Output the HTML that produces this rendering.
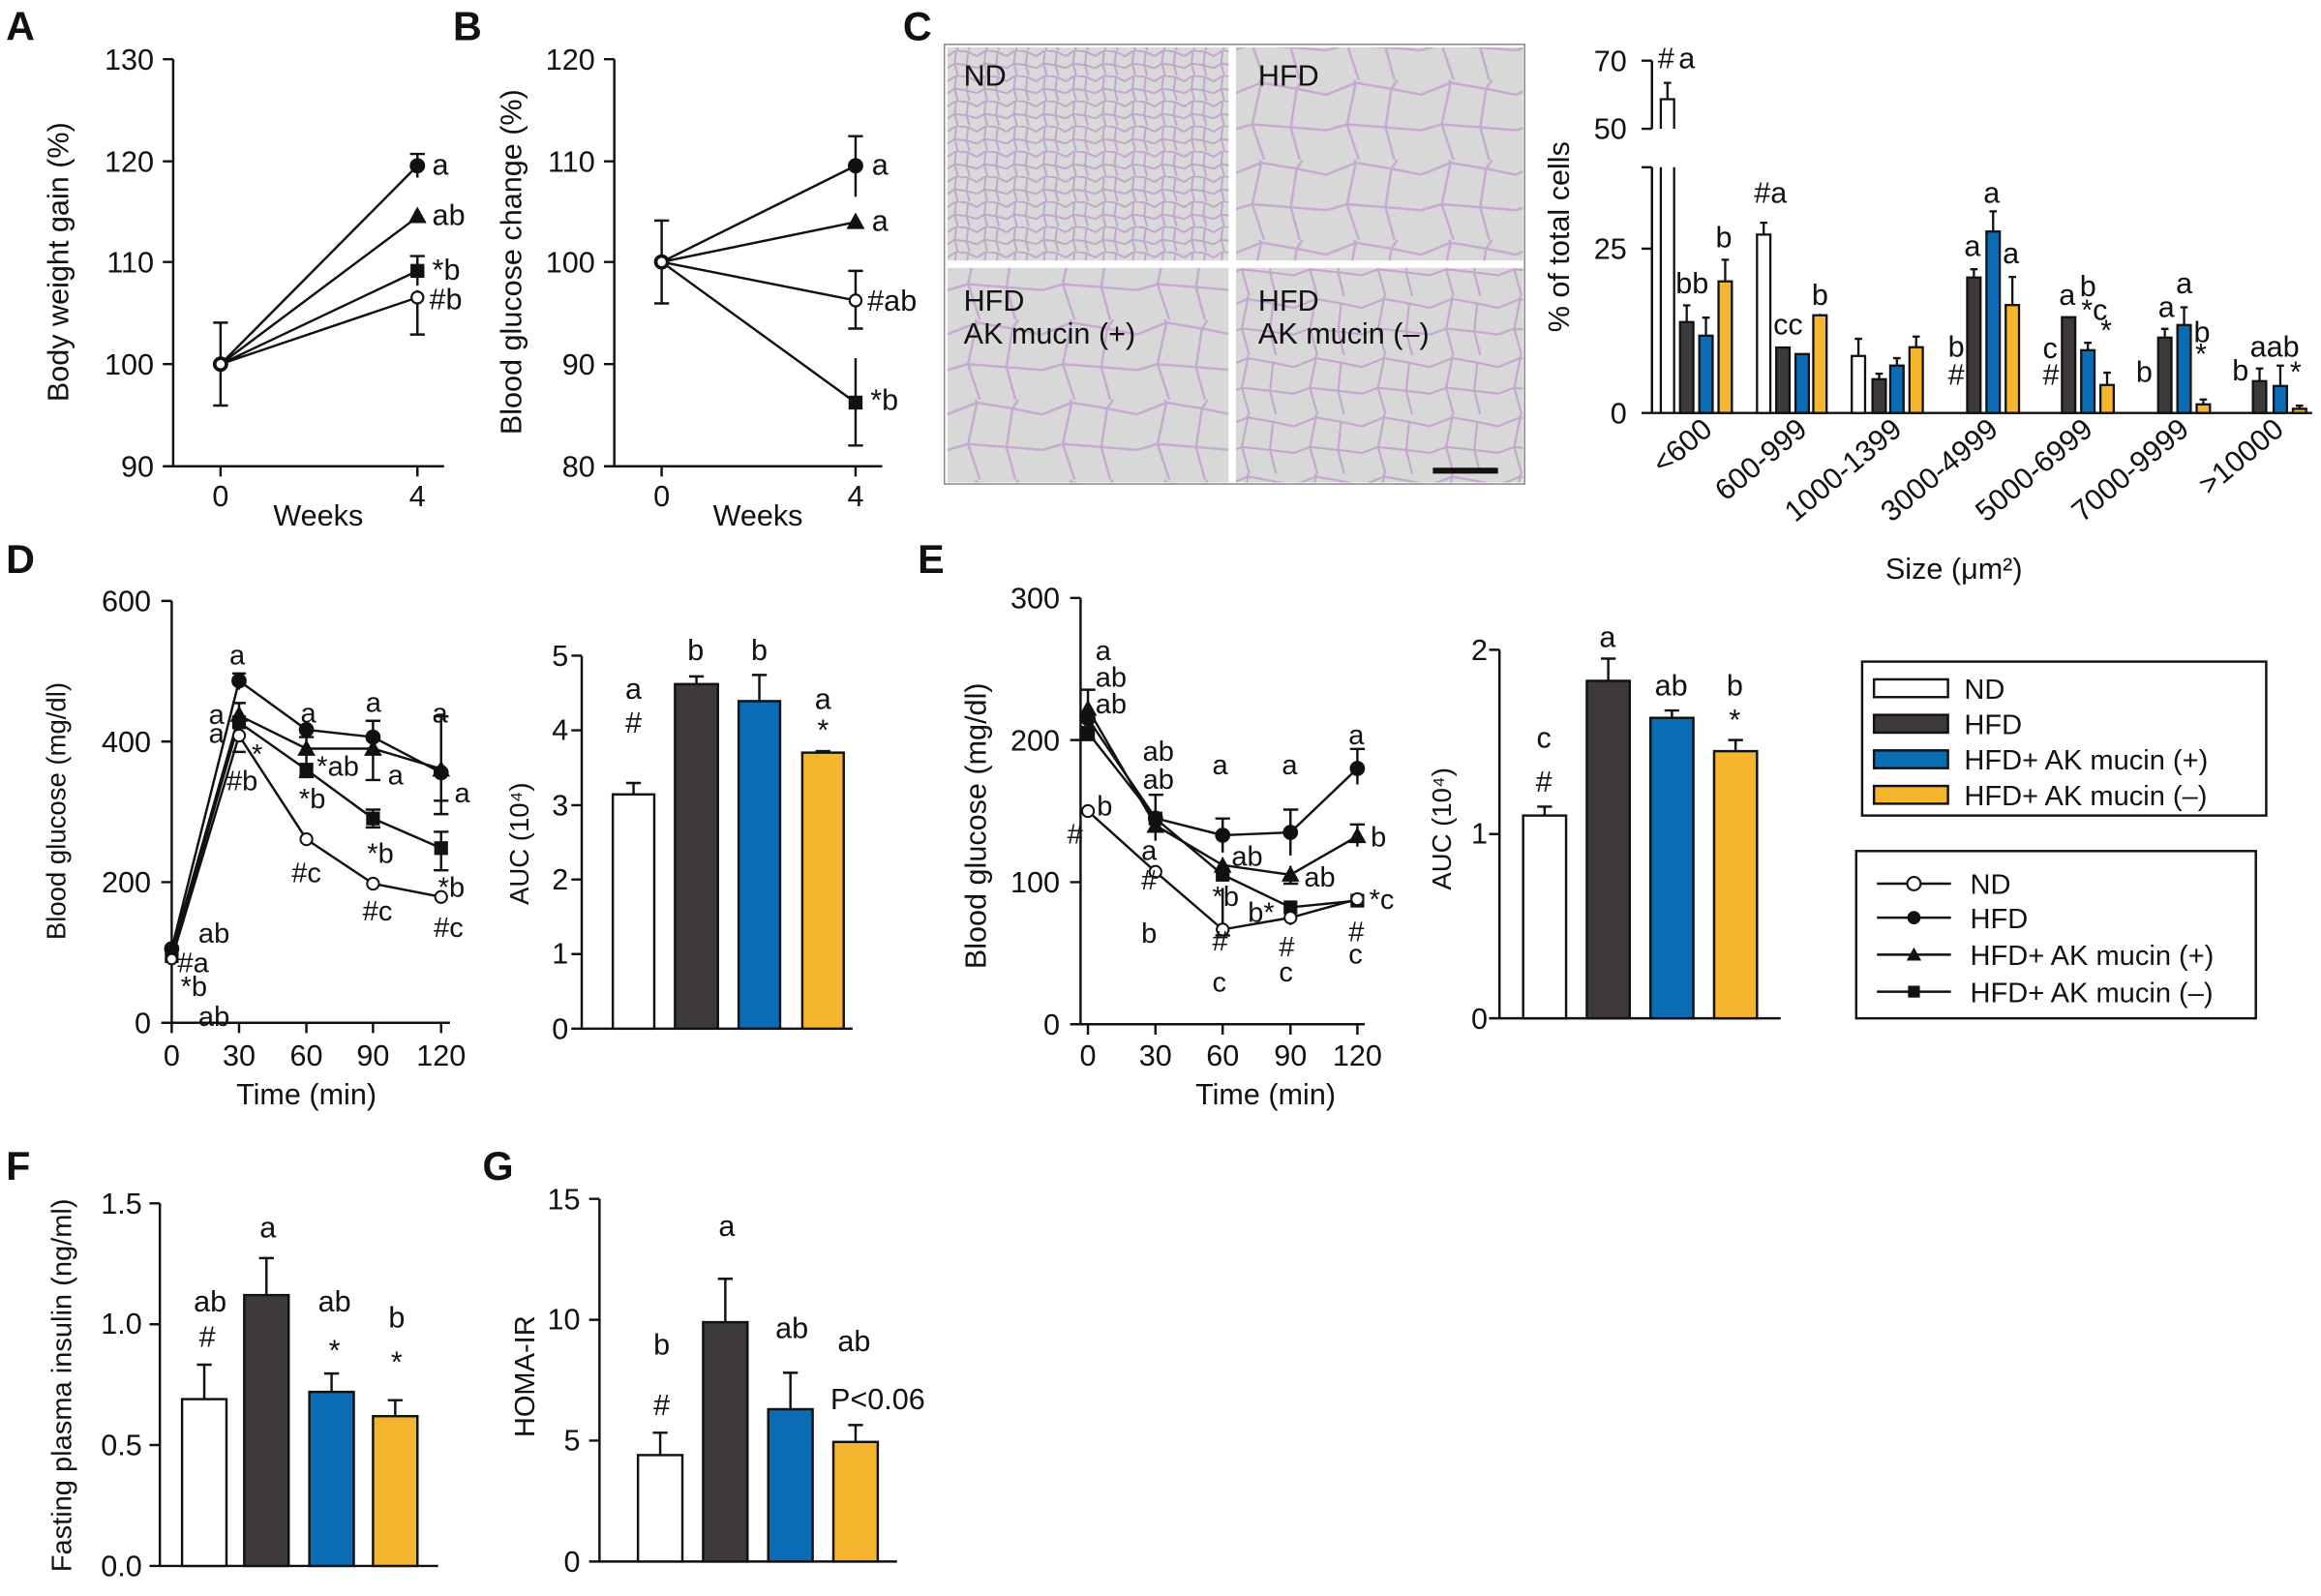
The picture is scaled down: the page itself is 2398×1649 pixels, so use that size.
<!DOCTYPE html>
<html><head><meta charset="utf-8"><style>
html,body{margin:0;padding:0;background:#fff}
svg{display:block}
text{font-family:"Liberation Sans",Arial,sans-serif;fill:#111}
</style></head><body>
<svg width="2398" height="1649" viewBox="0 0 1568 1078.3" preserveAspectRatio="none" xmlns="http://www.w3.org/2000/svg">
<defs>
<pattern id="pnd" width="20" height="17" patternUnits="userSpaceOnUse">
<rect width="20" height="17" fill="#d9d9d9"/>
<path d="M0 4 L6 0 L14 1 L20 4 M6 0 L5 9 L0 12 M5 9 L13 10 L14 1 M13 10 L20 12 M5 9 L7 17 M13 10 L15 17" fill="none" stroke="#c2a6cc" stroke-width="1.3"/>
</pattern>
<pattern id="pbig" width="64" height="54" patternUnits="userSpaceOnUse">
<rect width="64" height="54" fill="#d8d8d8"/>
<path d="M0 10 L20 2 L44 6 L64 10 M20 2 L18 -2 M20 2 L14 30 L0 34 M14 30 L40 32 L44 6 M40 32 L64 34 M14 30 L22 54 M40 32 L46 54 M44 6 L48 0" fill="none" stroke="#c7a9d0" stroke-width="1.6"/>
</pattern>
<pattern id="pmid" width="46" height="40" patternUnits="userSpaceOnUse">
<rect width="46" height="40" fill="#d8d8d8"/>
<path d="M0 8 L15 2 L32 5 L46 8 M15 2 L15 0 M15 2 L11 22 L0 26 M11 22 L30 24 L32 5 M30 24 L46 26 M11 22 L16 40 M30 24 L34 40" fill="none" stroke="#c4a6cd" stroke-width="1.4"/>
</pattern>
</defs>
<g stroke="#111" stroke-width="1.6" fill="none">
<path d="M117 40 V315 M110 40 H117 M110 109 H117 M110 177 H117 M110 246 H117 M110 315 H300 M149 315 V322 M282 315 V322"/>
<path d="M149 246 L282 112 M149 246 L282 146.6 M149 246 L282 183 M149 246 L282 201"/>
<path d="M149 218 V274 M144 218 H154 M144 274 H154 M282 104 V120 M277 104 H287 M282 196 V226 M277 226 H287 M282 173 V193 M277 173 H287"/>
<path d="M415 40 V315 M408 40 H415 M408 109 H415 M408 177 H415 M408 246 H415 M408 315 H596 M447 315 V322 M578 315 V322"/>
<path d="M447 177 L578 112 M447 177 L578 150 M447 177 L578 203 M447 177 L578 272"/>
<path d="M447 149 V205 M442 149 H452 M442 205 H452 M578 92 V133 M573 92 H583 M578 183 V222 M573 183 H583 M573 222 H583 M578 242 V301 M573 301 H583"/>
</g>
<g fill="#111" stroke="#111" stroke-width="1.4">
<circle cx="282" cy="112" r="4.5"/><path d="M282 141 L287 150 L277 150Z"/><rect x="278" y="179" width="8" height="8"/>
<circle cx="578" cy="112" r="4.5"/><path d="M578 145 L583 154 L573 154Z"/><rect x="574" y="268" width="8" height="8"/>
<circle cx="149" cy="246" r="4.5"/><circle cx="447" cy="177" r="4.5"/>
</g>
<g fill="#fff" stroke="#111" stroke-width="1.4"><circle cx="282" cy="201" r="4"/><circle cx="578" cy="203" r="4"/><circle cx="149" cy="246" r="3.5"/><circle cx="447" cy="177" r="3.5"/></g>
<g font-size="20">
<text x="104" y="47" text-anchor="end">130</text><text x="104" y="116" text-anchor="end">120</text><text x="104" y="184" text-anchor="end">110</text><text x="104" y="253" text-anchor="end">100</text><text x="104" y="322" text-anchor="end">90</text>
<text x="149" y="342" text-anchor="middle">0</text><text x="282" y="342" text-anchor="middle">4</text><text x="215" y="355" text-anchor="middle">Weeks</text>
<text transform="translate(46,177) rotate(-90)" text-anchor="middle">Body weight gain (%)</text>
<text x="292" y="118">a</text><text x="292" y="152">ab</text><text x="292" y="189">*b</text><text x="290" y="209">#b</text>
<text x="402" y="47" text-anchor="end">120</text><text x="402" y="116" text-anchor="end">110</text><text x="402" y="184" text-anchor="end">100</text><text x="402" y="253" text-anchor="end">90</text><text x="402" y="322" text-anchor="end">80</text>
<text x="447" y="342" text-anchor="middle">0</text><text x="578" y="342" text-anchor="middle">4</text><text x="512" y="355" text-anchor="middle">Weeks</text>
<text transform="translate(352,177) rotate(-90)" text-anchor="middle">Blood glucose change (%)</text>
<text x="589" y="118">a</text><text x="589" y="156">a</text><text x="586" y="210">#ab</text><text x="588" y="277">*b</text>
</g>
<g font-size="27" font-weight="bold">
<text x="4" y="27">A</text><text x="306" y="27">B</text><text x="610" y="27">C</text><text x="4" y="387">D</text><text x="620" y="387">E</text><text x="4" y="797">F</text><text x="326" y="797">G</text>
</g>
<rect x="638" y="30" width="392" height="297" fill="#fff" stroke="#888" stroke-width="1"/>
<rect x="640" y="32" width="190" height="144" fill="url(#pnd)"/>
<rect x="835" y="32" width="194" height="144" fill="url(#pbig)"/>
<rect x="640" y="181" width="190" height="145" fill="url(#pbig)"/>
<rect x="835" y="181" width="194" height="145" fill="url(#pmid)"/>
<g font-size="20"><text x="651" y="58">ND</text><text x="850" y="58">HFD</text><text x="651" y="210">HFD</text><text x="651" y="232">AK mucin (+)</text><text x="850" y="210">HFD</text><text x="850" y="232">AK mucin (–)</text></g>
<rect x="968" y="316" width="44" height="4" fill="#111"/>
<g stroke="#111" stroke-width="1.6" fill="none">
<path d="M1116 41 V87 M1109 41 H1116 M1109 87 H1116 M1116 113 V279 M1109 113 H1116 M1109 168 H1116 M1109 279 H1562"/>
</g>
<g stroke="#111" stroke-width="1.5">
<path d="M1122 87 V67 H1131 V87" fill="#fff"/><path d="M1126.5 67 V56 M1124 56 H1129" fill="none"/>
<path d="M1122 279 V113 M1131 279 V113" fill="none"/>
<rect x="1135" y="217.6" width="9" height="61.4" fill="#3d3a39"/><rect x="1148" y="226.8" width="9" height="52.2" fill="#0a6cb5"/><rect x="1161" y="190.1" width="9" height="88.9" fill="#f5b52e"/>
<rect x="1187" y="158.5" width="9" height="120.5" fill="#fff"/><rect x="1200" y="234.8" width="9" height="44.2" fill="#3d3a39"/><rect x="1213" y="239.2" width="9" height="39.8" fill="#0a6cb5"/><rect x="1225" y="213" width="9" height="66" fill="#f5b52e"/>
<rect x="1251" y="240.5" width="9" height="38.5" fill="#fff"/><rect x="1265" y="256.2" width="9" height="22.8" fill="#3d3a39"/><rect x="1277" y="247" width="9" height="32" fill="#0a6cb5"/><rect x="1290" y="234.6" width="9" height="44.4" fill="#f5b52e"/>
<rect x="1329" y="187.5" width="9" height="91.5" fill="#3d3a39"/><rect x="1342" y="156.4" width="9" height="122.6" fill="#0a6cb5"/><rect x="1355" y="206.1" width="9" height="72.9" fill="#f5b52e"/>
<rect x="1393" y="214.3" width="9" height="64.7" fill="#3d3a39"/><rect x="1406" y="236.6" width="9" height="42.4" fill="#0a6cb5"/><rect x="1419" y="260.1" width="9" height="18.9" fill="#f5b52e"/>
<rect x="1458" y="228.1" width="9" height="50.9" fill="#3d3a39"/><rect x="1471" y="219.6" width="9" height="59.4" fill="#0a6cb5"/><rect x="1484" y="273.2" width="9" height="5.8" fill="#f5b52e"/>
<rect x="1522" y="257.5" width="9" height="21.5" fill="#3d3a39"/><rect x="1536" y="260.8" width="9" height="18.2" fill="#0a6cb5"/><rect x="1549" y="276.2" width="9" height="2.8" fill="#f5b52e"/>
<path fill="none" d="M1139.5 217.6 V206.3 M1137 206.3 H1142 M1152.5 226.8 V214.6 M1150 214.6 H1155 M1165.5 190.1 V175.5 M1163 175.5 H1168
M1191.5 158.5 V150.5 M1189 150.5 H1194 M1229.5 213 V212 M1281.5 247 V242 M1279 242 H1284 M1255.5 240.5 V228.9 M1253 228.9 H1258 M1294.5 234.6 V227.4 M1292 227.4 H1297 M1269.5 256.2 V252.5 M1267 252.5 H1272
M1333.5 187.5 V181.9 M1331 181.9 H1336 M1346.5 156.4 V142.8 M1344 142.8 H1349 M1359.5 206.1 V187.1 M1357 187.1 H1362
M1410.5 236.6 V231.6 M1408 231.6 H1413 M1423.5 260.1 V251.8 M1421 251.8 H1426
M1462.5 228.1 V222.2 M1460 222.2 H1465 M1475.5 219.6 V207.6 M1473 207.6 H1478 M1488.5 273.2 V269.9 M1486 269.9 H1491
M1526.5 257.5 V249 M1524 249 H1529 M1540.5 260.8 V247 M1538 247 H1543 M1553.5 276.2 V274.1 M1551 274.1 H1556"/>
</g>
<g font-size="20">
<text x="1099" y="48" text-anchor="end">70</text><text x="1099" y="94" text-anchor="end">50</text><text x="1099" y="175" text-anchor="end">25</text><text x="1099" y="286" text-anchor="end">0</text>
<text transform="translate(1060,160) rotate(-90)" text-anchor="middle">% of total cells</text>
<text x="1320" y="391" text-anchor="middle">Size (μm²)</text>
<text transform="translate(1158,292) rotate(-40)" text-anchor="end">&lt;600</text>
<text transform="translate(1222,292) rotate(-40)" text-anchor="end">600-999</text>
<text transform="translate(1286,292) rotate(-40)" text-anchor="end">1000-1399</text>
<text transform="translate(1351,292) rotate(-40)" text-anchor="end">3000-4999</text>
<text transform="translate(1415,292) rotate(-40)" text-anchor="end">5000-6999</text>
<text transform="translate(1480,292) rotate(-40)" text-anchor="end">7000-9999</text>
<text transform="translate(1544,292) rotate(-40)" text-anchor="end">&gt;10000</text>
<text x="1120" y="46">#</text><text x="1134" y="46">a</text>
<text x="1132" y="198">bb</text><text x="1159" y="167">b</text>
<text x="1185" y="137">#a</text><text x="1198" y="226">cc</text><text x="1224" y="206">b</text>
<text x="1340" y="137">a</text><text x="1327" y="173">a</text><text x="1353" y="178">a</text>
<text x="1316" y="241">b</text><text x="1316" y="260">#</text>
<text x="1380" y="242">c</text><text x="1380" y="260">#</text><text x="1391" y="206">a</text><text x="1405" y="200">b</text><text x="1406" y="216">*c</text><text x="1419" y="230">*</text>
<text x="1443" y="258">b</text><text x="1458" y="214">a</text><text x="1470" y="198">a</text><text x="1482" y="231">b</text><text x="1483" y="246">*</text>
<text x="1508" y="257">b</text><text x="1520" y="241">aab</text><text x="1547" y="258">*</text>
</g>
<g stroke="#111" stroke-width="1.6" fill="none">
<path d="M116 406 V691 M109 406 H116 M109 501 H116 M109 596 H116 M109 691 H304 M116 691 V698 M161.5 691 V698 M207 691 V698 M252 691 V698 M298 691 V698"/>
<path d="M116 648 L161.5 497 L207 567 L252 597 L298 606"/>
<path d="M116 641 L161.5 460 L207 493 L252 498 L298 522"/>
<path d="M116 643.5 L161.5 483.4 L207 505.8 L252 505.8 L298 519.5"/>
<path d="M116 646 L161.5 488 L207 520 L252 553 L298 573"/>
<path d="M161.5 455 V466 M157 455 H166 M161.5 475 V500 M157 475 H166 M157 508 H166 M207 498 V518 M202 498 H212 M207 515 V525 M202 525 H212 M252 487 V527 M247 487 H257 M247 527 H257 M252 547 V559 M247 547 H257 M247 559 H257 M298 484 V550 M293 484 H303 M293 550 H303 M293 541 H303 M298 562 V588 M293 562 H303 M293 588 H303"/>
</g>
<g fill="#111" stroke="#111" stroke-width="1.3">
<circle cx="161.5" cy="460" r="4.5"/><circle cx="207" cy="493" r="4.5"/><circle cx="252" cy="498" r="4.5"/><circle cx="298" cy="522" r="4.5"/><circle cx="116" cy="641" r="4.5"/>
<path d="M161.5 478 L166.5 487 L156.5 487Z M207 501 L212 510 L202 510Z M252 501 L257 510 L247 510Z M298 515 L303 524 L293 524Z"/>
<rect x="157.5" y="484" width="8" height="8"/><rect x="203" y="516" width="8" height="8"/><rect x="248" y="549" width="8" height="8"/><rect x="294" y="569" width="8" height="8"/><rect x="112" y="642" width="8" height="8"/>
</g>
<g fill="#fff" stroke="#111" stroke-width="1.3"><circle cx="161.5" cy="497" r="4"/><circle cx="207" cy="567" r="4"/><circle cx="252" cy="597" r="4"/><circle cx="298" cy="606" r="4"/><circle cx="116" cy="648" r="3.5"/></g>
<g font-size="20">
<text x="102" y="413" text-anchor="end">600</text><text x="102" y="508" text-anchor="end">400</text><text x="102" y="603" text-anchor="end">200</text><text x="102" y="698" text-anchor="end">0</text>
<text x="116" y="720" text-anchor="middle">0</text><text x="161.5" y="720" text-anchor="middle">30</text><text x="207" y="720" text-anchor="middle">60</text><text x="252" y="720" text-anchor="middle">90</text><text x="298" y="720" text-anchor="middle">120</text>
<text x="207" y="746" text-anchor="middle">Time (min)</text>
</g>
<text transform="translate(44,548) rotate(-90)" text-anchor="middle" font-size="18">Blood glucose (mg/dl)</text>
<g font-size="19">
<text x="155" y="449">a</text><text x="141" y="489">a</text><text x="141" y="502">a</text><text x="170" y="516">*</text><text x="153" y="534">#b</text>
<text x="203" y="488">a</text><text x="214" y="524">*ab</text><text x="202" y="546">*b</text>
<text x="247" y="481">a</text><text x="262" y="530">a</text><text x="248" y="583">*b</text><text x="197" y="596">#c</text><text x="245" y="622">#c</text>
<text x="292" y="488">a</text><text x="307" y="542">a</text><text x="296" y="606">*b</text><text x="293" y="633">#c</text>
<text x="134" y="637">ab</text><text x="120" y="657">#a</text><text x="122" y="673">*b</text><text x="134" y="693">ab</text>
</g>
<g stroke="#111" stroke-width="1.6" fill="none"><path d="M393 443 V695 M386 443 H393 M386 493.4 H393 M386 544 H393 M386 594.2 H393 M386 644.6 H393 M386 695 H576"/></g>
<g stroke="#111" stroke-width="1.6">
<rect x="414" y="536.7" width="28" height="158.3" fill="#fff"/><rect x="456" y="462.2" width="29" height="232.8" fill="#3d3a39"/><rect x="499" y="473.7" width="28" height="221.3" fill="#0a6cb5"/><rect x="542" y="508.5" width="28" height="186.5" fill="#f5b52e"/>
<path fill="none" d="M428 536.7 V529 M423 529 H433 M470.5 462.2 V457 M465.5 457 H475.5 M513 473.7 V456 M508 456 H518 M556 508.5 V507.5 M551 507.5 H561"/>
</g>
<g font-size="20">
<text x="384" y="450" text-anchor="end">5</text><text x="384" y="500" text-anchor="end">4</text><text x="384" y="551" text-anchor="end">3</text><text x="384" y="601" text-anchor="end">2</text><text x="384" y="651" text-anchor="end">1</text><text x="384" y="702" text-anchor="end">0</text>
<text x="428" y="472" text-anchor="middle">a</text><text x="428" y="495" text-anchor="middle">#</text><text x="470" y="446" text-anchor="middle">b</text><text x="513" y="446" text-anchor="middle">b</text><text x="556" y="479" text-anchor="middle">a</text><text x="556" y="500" text-anchor="middle">*</text>
</g>
<text transform="translate(357,570) rotate(-90)" text-anchor="middle" font-size="18">AUC (10⁴)</text>
<g stroke="#111" stroke-width="1.6" fill="none">
<path d="M730 404 V692 M723 404 H730 M723 500 H730 M723 596 H730 M723 692 H922 M735 692 V699 M780.6 692 V699 M826 692 V699 M871.8 692 V699 M917 692 V699"/>
<path d="M735 548 L780.6 589 L826 628 L871.8 620 L917 607.5"/>
<path d="M735 485.6 L780.6 552.8 L826 564.3 L871.8 562.4 L917 519.2"/>
<path d="M735 479 L780.6 557.6 L826 584.5 L871.8 591 L917 565"/>
<path d="M735 495 L780.6 553 L826 591 L871.8 613 L917 608.5"/>
<path d="M735 466 V500 M730 466 H740 M730 500 H740 M780.6 537 V568 M776 537 H786 M826 553 V576 M821 553 H831 M871.8 547 V578 M867 547 H877 M917 506 V530 M912 506 H922 M917 557 V572 M912 557 H922 M871.8 585 V597 M867 597 H877 M826 600 V632 M821 632 H831 M871.8 617 V625 M917 603 V612"/>
</g>
<g fill="#111" stroke="#111" stroke-width="1.3">
<circle cx="735" cy="485.6" r="4.5"/><circle cx="780.6" cy="552.8" r="4.5"/><circle cx="826" cy="564.3" r="4.5"/><circle cx="871.8" cy="562.4" r="4.5"/><circle cx="917" cy="519.2" r="4.5"/>
<path d="M735 474 L740 483 L730 483Z M780.6 553 L785.6 562 L775.6 562Z M826 580 L831 589 L821 589Z M871.8 586 L876.8 595 L866.8 595Z M917 560 L922 569 L912 569Z"/>
<rect x="731" y="491" width="8" height="8"/><rect x="776.6" y="549" width="8" height="8"/><rect x="822" y="587" width="8" height="8"/><rect x="867.8" y="609" width="8" height="8"/><rect x="913" y="604.5" width="8" height="8"/>
</g>
<g fill="#fff" stroke="#111" stroke-width="1.3"><circle cx="735" cy="548" r="4"/><circle cx="780.6" cy="589" r="4"/><circle cx="826" cy="628" r="4"/><circle cx="871.8" cy="620" r="4"/><circle cx="917" cy="607.5" r="4"/></g>
<g font-size="20">
<text x="716" y="411" text-anchor="end">300</text><text x="716" y="507" text-anchor="end">200</text><text x="716" y="603" text-anchor="end">100</text><text x="716" y="699" text-anchor="end">0</text>
<text x="735" y="720" text-anchor="middle">0</text><text x="780.6" y="720" text-anchor="middle">30</text><text x="826" y="720" text-anchor="middle">60</text><text x="871.8" y="720" text-anchor="middle">90</text><text x="917" y="720" text-anchor="middle">120</text>
<text x="855" y="746" text-anchor="middle">Time (min)</text>
<text transform="translate(666,558) rotate(-90)" text-anchor="middle">Blood glucose (mg/dl)</text>
</g>
<g font-size="19">
<text x="740" y="446">a</text><text x="740" y="464">ab</text><text x="740" y="482">ab</text><text x="741" y="551">b</text><text x="721" y="570">#</text>
<text x="772" y="514">ab</text><text x="772" y="533">ab</text><text x="771" y="581">a</text><text x="771" y="601">#</text><text x="771" y="637">b</text>
<text x="819" y="523">a</text><text x="832" y="585">ab</text><text x="819" y="612">*b</text><text x="819" y="642">#</text><text x="819" y="670">c</text>
<text x="866" y="523">a</text><text x="881" y="599">ab</text><text x="843" y="623">b*</text><text x="864" y="646">#</text><text x="864" y="663">c</text>
<text x="911" y="503">a</text><text x="926" y="572">b</text><text x="925" y="614">*c</text><text x="911" y="636">#</text><text x="911" y="651">c</text>
</g>
<g stroke="#111" stroke-width="1.6" fill="none"><path d="M1013 439 V688 M1006 439 H1013 M1006 563.5 H1013 M1006 688 H1203"/></g>
<g stroke="#111" stroke-width="1.6">
<rect x="1029" y="551" width="29" height="137" fill="#fff"/><rect x="1072" y="460" width="29" height="228" fill="#3d3a39"/><rect x="1115" y="485" width="29" height="203" fill="#0a6cb5"/><rect x="1158" y="507.5" width="29" height="180.5" fill="#f5b52e"/>
<path fill="none" d="M1043.5 551 V545 M1038.5 545 H1048.5 M1086.5 460 V445 M1081.5 445 H1091.5 M1129.5 485 V480 M1124.5 480 H1134.5 M1172.5 507.5 V500 M1167.5 500 H1177.5"/>
</g>
<g font-size="20">
<text x="1005" y="446" text-anchor="end">2</text><text x="1005" y="570" text-anchor="end">1</text><text x="1005" y="695" text-anchor="end">0</text>
<text x="1043" y="505" text-anchor="middle">c</text><text x="1043" y="535" text-anchor="middle">#</text><text x="1086" y="437" text-anchor="middle">a</text><text x="1129" y="470" text-anchor="middle">ab</text><text x="1172" y="470" text-anchor="middle">b</text><text x="1172" y="493" text-anchor="middle">*</text>
</g>
<text transform="translate(980,560) rotate(-90)" text-anchor="middle" font-size="18">AUC (10⁴)</text>
<rect x="1258" y="447" width="273" height="104" fill="none" stroke="#111" stroke-width="1.6"/>
<g stroke="#111" stroke-width="1.6">
<rect x="1266" y="459" width="50" height="12" fill="#fff"/><rect x="1266" y="483" width="50" height="12" fill="#3d3a39"/><rect x="1266" y="507" width="50" height="12" fill="#0a6cb5"/><rect x="1266" y="531" width="50" height="12" fill="#f5b52e"/>
</g>
<g font-size="19"><text x="1327" y="472">ND</text><text x="1327" y="496">HFD</text><text x="1327" y="520">HFD+ AK mucin (+)</text><text x="1327" y="544">HFD+ AK mucin (–)</text></g>
<rect x="1254" y="575" width="270" height="113" fill="none" stroke="#111" stroke-width="1.6"/>
<g stroke="#111" stroke-width="1.6"><path d="M1268 597 H1318 M1268 620 H1318 M1268 645 H1318 M1268 670 H1318"/></g>
<circle cx="1293" cy="597" r="4.5" fill="#fff" stroke="#111" stroke-width="1.4"/><circle cx="1293" cy="620" r="4.5" fill="#111"/>
<path d="M1293 640 L1298 649 L1288 649Z" fill="#111"/><rect x="1289" y="666" width="8" height="8" fill="#111"/>
<g font-size="19"><text x="1331" y="604">ND</text><text x="1331" y="627">HFD</text><text x="1331" y="652">HFD+ AK mucin (+)</text><text x="1331" y="677">HFD+ AK mucin (–)</text></g>
<g stroke="#111" stroke-width="1.6" fill="none"><path d="M108 813 V1058 M101 813 H108 M101 894.7 H108 M101 976.3 H108 M101 1058 H296"/></g>
<g stroke="#111" stroke-width="1.6">
<rect x="123" y="945.3" width="30" height="112.7" fill="#fff"/><rect x="165" y="875" width="30" height="183" fill="#3d3a39"/><rect x="209" y="940.4" width="30" height="117.6" fill="#0a6cb5"/><rect x="252" y="956.8" width="30" height="101.2" fill="#f5b52e"/>
<path fill="none" d="M138 945.3 V922 M133 922 H143 M180 875 V850 M175 850 H185 M224 940.4 V928 M219 928 H229 M267 956.8 V946 M262 946 H272"/>
</g>
<g font-size="20">
<text x="96" y="820" text-anchor="end">1.5</text><text x="96" y="901" text-anchor="end">1.0</text><text x="96" y="983" text-anchor="end">0.5</text><text x="96" y="1065" text-anchor="end">0.0</text>
<text x="142" y="886" text-anchor="middle">ab</text><text x="140" y="910" text-anchor="middle">#</text><text x="181" y="836" text-anchor="middle">a</text><text x="226" y="886" text-anchor="middle">ab</text><text x="226" y="919" text-anchor="middle">*</text><text x="268" y="897" text-anchor="middle">b</text><text x="268" y="927" text-anchor="middle">*</text>
</g>
<text transform="translate(48,936) rotate(-90)" text-anchor="middle" font-size="19">Fasting plasma insulin (ng/ml)</text>
<g stroke="#111" stroke-width="1.6" fill="none"><path d="M405 810 V1055 M398 810 H405 M398 891.7 H405 M398 973.3 H405 M398 1055 H606"/></g>
<g stroke="#111" stroke-width="1.6">
<rect x="431" y="983.1" width="30" height="71.9" fill="#fff"/><rect x="475" y="893.3" width="30" height="161.7" fill="#3d3a39"/><rect x="519" y="952.1" width="30" height="102.9" fill="#0a6cb5"/><rect x="563" y="974.2" width="30" height="80.8" fill="#f5b52e"/>
<path fill="none" d="M446 983.1 V968 M441 968 H451 M490 893.3 V864 M485 864 H495 M534 952.1 V927.5 M529 927.5 H539 M578 974.2 V962.8 M573 962.8 H583"/>
</g>
<g font-size="20">
<text x="392" y="817" text-anchor="end">15</text><text x="392" y="898" text-anchor="end">10</text><text x="392" y="980" text-anchor="end">5</text><text x="392" y="1062" text-anchor="end">0</text>
<text x="447" y="915" text-anchor="middle">b</text><text x="447" y="956" text-anchor="middle">#</text><text x="491" y="835" text-anchor="middle">a</text><text x="535" y="904" text-anchor="middle">ab</text><text x="577" y="913" text-anchor="middle">ab</text><text x="593" y="952" text-anchor="middle">P&lt;0.06</text>
</g>
<text transform="translate(361,930) rotate(-90)" text-anchor="middle" font-size="19">HOMA-IR</text>
</svg>
</body></html>
